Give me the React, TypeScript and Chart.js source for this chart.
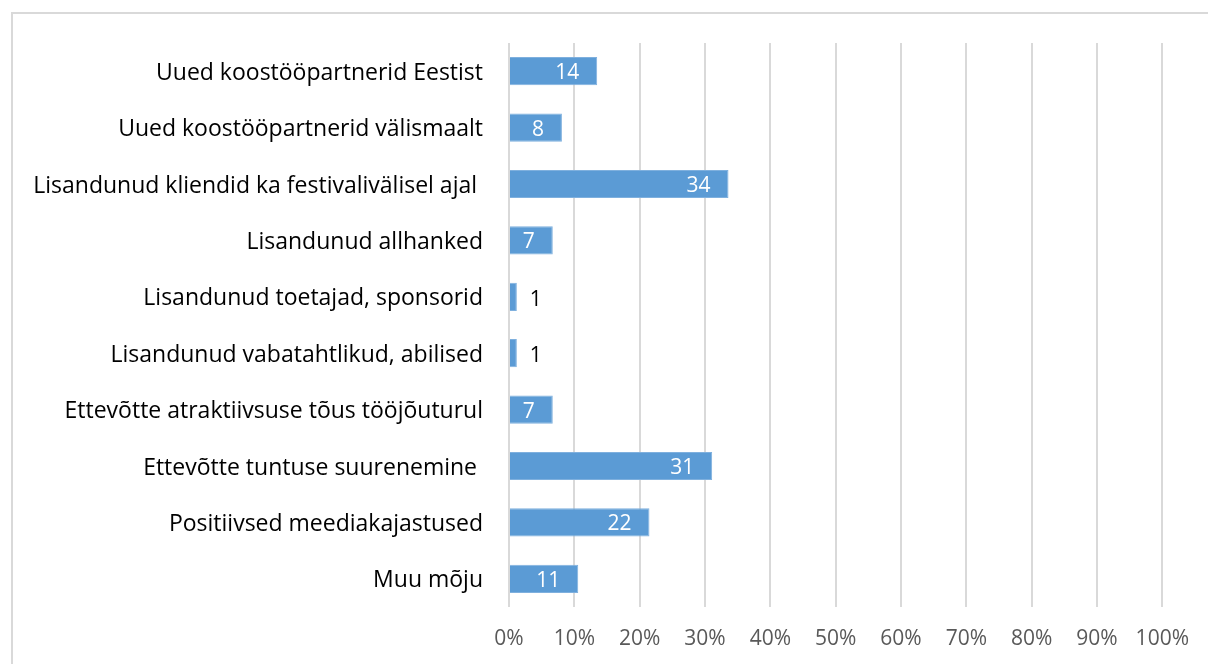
import React, { useEffect, useRef } from "react";
import { Chart, registerables } from "chart.js";

Chart.register(...registerables);

const categories = [
  "Uued koostööpartnerid Eestist",
  "Uued koostööpartnerid välismaalt",
  "Lisandunud kliendid ka festivalivälisel ajal ",
  "Lisandunud allhanked",
  "Lisandunud toetajad, sponsorid",
  "Lisandunud vabatahtlikud, abilised",
  "Ettevõtte atraktiivsuse tõus tööjõuturul",
  "Ettevõtte tuntuse suurenemine ",
  "Positiivsed meediakajastused",
  "Muu mõju",
];
const values = [13.5, 8.1, 33.6, 6.7, 1.2, 1.2, 6.7, 31.1, 21.5, 10.6];
const valueLabels = ["14", "8", "34", "7", "1", "1", "7", "31", "22", "11"];
const xTicks = [0, 10, 20, 30, 40, 50, 60, 70, 80, 90, 100];

const FONT = "'Open Sans', 'Noto Sans', sans-serif";

const labelPlugin = {
  id: "barLabels",
  afterDatasetsDraw(chart: any) {
    const ctx = chart.ctx;
    const meta = chart.getDatasetMeta(0);
    ctx.save();
    ctx.font = `21px ${FONT}`;
    ctx.textBaseline = "middle";
    meta.data.forEach((bar: any, i: number) => {
      const text = valueLabels[i];
      const w = ctx.measureText(text).width;
      const len = bar.x - bar.base;
      if (len > w + 20) {
        ctx.fillStyle = "#ffffff";
        ctx.textAlign = "right";
        ctx.fillText(text, bar.x - 18, bar.y + 2);
      } else {
        ctx.fillStyle = "#000000";
        ctx.textAlign = "left";
        ctx.fillText(text, bar.x + 13, bar.y + 3);
      }
    });
    ctx.restore();
  },
};

export default function App() {
  const ref = useRef<HTMLCanvasElement | null>(null);
  useEffect(() => {
    if (!ref.current) return;
    const chart = new Chart(ref.current, {
      type: "bar",
      data: {
        labels: categories,
        datasets: [
          {
            data: values,
            backgroundColor: "#5B9BD5",
            borderColor: "#7fb0de",
            borderWidth: 1,
            barPercentage: 0.5,
            categoryPercentage: 1,
          },
        ],
      },
      options: {
        indexAxis: "y",
        animation: false,
        responsive: false,
        maintainAspectRatio: false,
        layout: { padding: { top: 43, right: 42, left: 0, bottom: 0 } },
        plugins: { legend: { display: false }, tooltip: { enabled: false } },
        scales: {
          x: {
            min: 0,
            max: 100,
            afterFit: (s: any) => {
              s.height = 57;
            },
            afterBuildTicks: (s: any) => {
              s.ticks = xTicks.map((v) => ({ value: v }));
            },
            ticks: {
              callback: (v: any) => v + "%",
              color: "#595959",
              font: { family: FONT, size: 21 },
              padding: 19,
              maxRotation: 0,
            },
            grid: { color: "#d9d9d9", lineWidth: 2, drawTicks: false },
            border: { display: false },
          },
          y: {
            afterFit: (s: any) => {
              s.width = 509;
            },
            ticks: {
              color: "#000000",
              font: { family: FONT, size: 23 },
              padding: 26,
              labelOffset: 2,
              autoSkip: false,
            },
            grid: { display: false, drawTicks: false },
            border: { display: false },
          },
        },
      },
      plugins: [labelPlugin],
    });
    return () => chart.destroy();
  }, []);

  return (
    <div
      style={{
        position: "fixed",
        left: 0,
        top: 0,
        width: 1208,
        height: 664,
        overflow: "hidden",
        background: "#ffffff",
      }}
    >
      <div
        style={{
          position: "absolute",
          left: 11,
          top: 12,
          width: 1300,
          height: 800,
          border: "2px solid #d9d9d9",
          boxSizing: "border-box",
        }}
      />
      <canvas
        ref={ref}
        width={1208}
        height={664}
        style={{ position: "absolute", left: 0, top: 0, width: 1208, height: 664 }}
      />
    </div>
  );
}
